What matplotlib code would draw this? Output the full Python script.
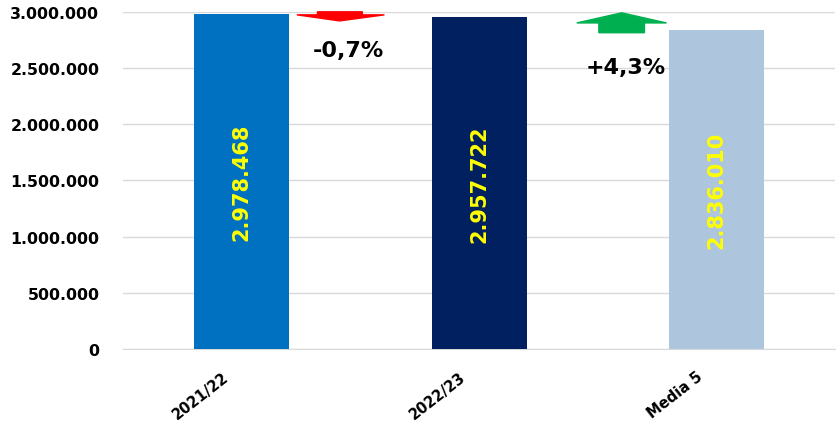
import matplotlib
matplotlib.use("Agg")
import matplotlib.pyplot as plt
from matplotlib.patches import Polygon
from matplotlib.ticker import FuncFormatter
from matplotlib.transforms import ScaledTranslation

categories = ["2021/22", "2022/23", "Media 5"]
values = [2978468, 2957722, 2836010]
bar_colors = ["#0070C0", "#002060", "#ADC6DE"]
y_ticks = [0, 500000, 1000000, 1500000, 2000000, 2500000, 3000000]


def fmt_it(v):
    return f"{int(v):,}".replace(",", ".")


def pct(a, b):
    p = (b - a) / a * 100
    return f"{p:+.1f}%".replace(".", ",")


# variazioni: 2021/22 -> 2022/23 e Media 5 -> 2022/23
changes = [pct(values[0], values[1]), pct(values[2], values[1])]

fig = plt.figure(figsize=(8.37, 4.27), dpi=100)
ax = fig.add_axes([0.147, 0.180, 0.851, 0.790])

x = range(len(categories))
ax.bar(x, values, width=0.4, color=bar_colors, zorder=3)

for xi, v in zip(x, values):
    ax.text(xi, v / 2, fmt_it(v), rotation=90, ha="center", va="center",
            color="#FFFF00", fontsize=15, fontweight="bold", zorder=4)

ax.set_xlim(-0.5, 2.5)
ax.set_ylim(0, 3000000)
ax.set_yticks(y_ticks)
ax.yaxis.set_major_formatter(FuncFormatter(lambda v, _: fmt_it(v)))
ax.grid(axis="y", color="#D9D9D9", lw=1, zorder=0)
ax.tick_params(axis="y", length=0, pad=17, labelsize=11.3)
ax.tick_params(axis="x", length=0, pad=14, labelsize=10.5)
for lab in ax.get_yticklabels():
    lab.set_fontweight("bold")
ax.set_xticks(list(x))
ax.set_xticklabels(categories, rotation=38, ha="right", rotation_mode="anchor",
                   fontweight="bold")
shift = ScaledTranslation(-20 / 100, 0, fig.dpi_scale_trans)
for lab in ax.get_xticklabels():
    lab.set_transform(lab.get_transform() + shift)
for s in ["top", "right", "left"]:
    ax.spines[s].set_visible(False)
ax.spines["bottom"].set_color("#D9D9D9")

# freccia rossa (calo)
red = Polygon([(0.273, 1.0), (0.336, 1.0), (0.336, 0.991), (0.367, 0.991),
               (0.304, 0.973), (0.244, 0.991), (0.273, 0.991)],
              closed=True, transform=ax.transAxes, color="#FF0000",
              clip_on=False, zorder=5)
ax.add_patch(red)
# freccia verde (aumento)
green = Polygon([(0.700, 0.997), (0.763, 0.967), (0.732, 0.967), (0.732, 0.938),
                 (0.668, 0.938), (0.668, 0.967), (0.637, 0.967)],
                closed=True, transform=ax.transAxes, color="#00B050",
                clip_on=False, zorder=5)
ax.add_patch(green)

ax.text(0.316, 0.888, changes[0], transform=ax.transAxes, ha="center", va="center",
        fontsize=16, fontweight="bold")
ax.text(0.706, 0.835, changes[1], transform=ax.transAxes, ha="center", va="center",
        fontsize=16, fontweight="bold")

fig.savefig("out.png", dpi=100)
